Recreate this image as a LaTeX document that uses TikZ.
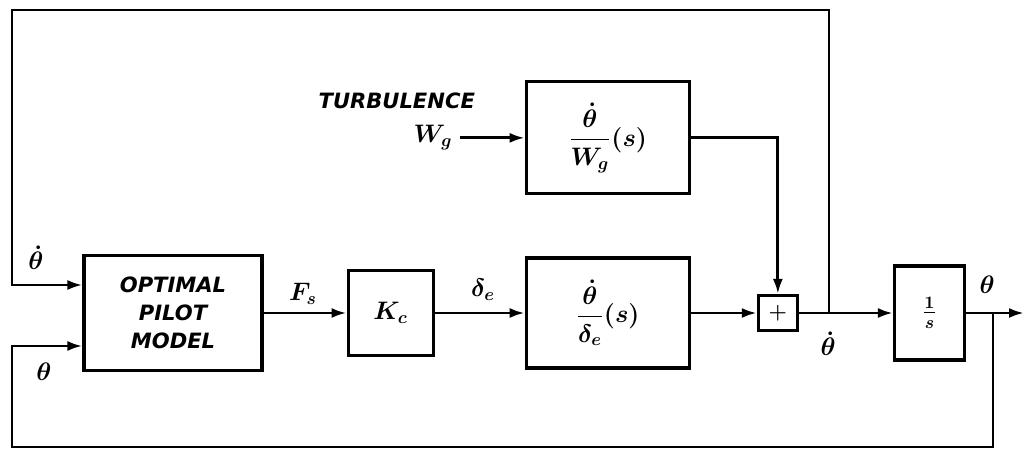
\documentclass[tikz,border=0pt]{standalone}
\usepackage{amsmath,amssymb}
\usepackage{fontspec}
\setsansfont{DejaVu Sans}
\usetikzlibrary{positioning,arrows.meta}

\begin{document}
\begin{tikzpicture}[x=0.02cm, y=-0.02cm, line width=1.6pt,
  every node/.style={execute at begin node=\boldmath},
  block/.style={draw, line width=1.8pt, inner sep=0pt, align=center},
  sig/.style={-{Latex[length=3mm,width=2mm]}},
  word/.style={font=\sffamily\bfseries\itshape\large, align=center},
  lbl/.style={font=\Large}]
\useasboundingbox (0,0) rectangle (1026,449);

% forward path
\node (pilot) [block, minimum width=3.56cm, minimum height=2.3cm, word] at (173,313) {OPTIMAL\\[2pt] PILOT\\[2pt] MODEL};
\node (Kc) [block, minimum width=1.7cm, minimum height=1.7cm, right=1.66cm of pilot] {\Large $K_c$};
\node (Gdelta) [block, minimum width=3.26cm, minimum height=2.2cm, right=1.8cm of Kc] {\Large $\dfrac{\dot\theta}{\delta_e}(s)$};
\node (plus) [block, minimum width=0.78cm, minimum height=0.7cm, right=1.32cm of Gdelta] {\large $+$};
\node (integ) [block, minimum width=1.4cm, minimum height=1.88cm, right=1.88cm of plus] {\Large $\frac{1}{s}$};

% disturbance path
\node (Gw) [block, minimum width=3.26cm, minimum height=2.24cm, above=1.22cm of Gdelta] {\Large $\dfrac{\dot\theta}{W_g}(s)$};
\node (wg) [lbl, left=1.3cm of Gw] {$W_g$};
\node (turb) [word, above=0.05cm of wg.north east, anchor=south east, xshift=0.45cm] {TURBULENCE};

% branch points and corners
\coordinate (j1) at (829,313);
\coordinate (j2) at (993,313);
\coordinate (out) at (1024,313);
\coordinate (tl) at (12,10);
\coordinate (bl) at (12,447);

% labels
\node (fs) [lbl, above left=0.02cm and 0.45cm of Kc.west] {$F_s$};
\node (de) [lbl, above left=0.1cm and 0.45cm of Gdelta.west] {$\delta_e$};
\node (thd1) [lbl] at (36,258) {$\dot\theta$};
\node (th1) [lbl] at (44,372) {$\theta$};
\node (thd2) [lbl] at (828,344) {$\dot\theta$};
\node (th2) [lbl] at (987,285) {$\theta$};

\draw[sig] (pilot) -- (Kc);
\draw[sig] (Kc) -- (Gdelta);
\draw[sig] (Gdelta) -- (plus);
\draw[sig] (plus) -- (integ);
\draw[sig] (integ) -- (out);
\draw[sig] (wg) -- (Gw);
\draw[sig] (Gw.east) -| (plus.north);
\draw[sig] (j1) |- (tl) |- ([yshift=0.56cm]pilot.west);
\draw[sig] (j2) |- (bl) |- ([yshift=-0.66cm]pilot.west);
\end{tikzpicture}
\end{document}
